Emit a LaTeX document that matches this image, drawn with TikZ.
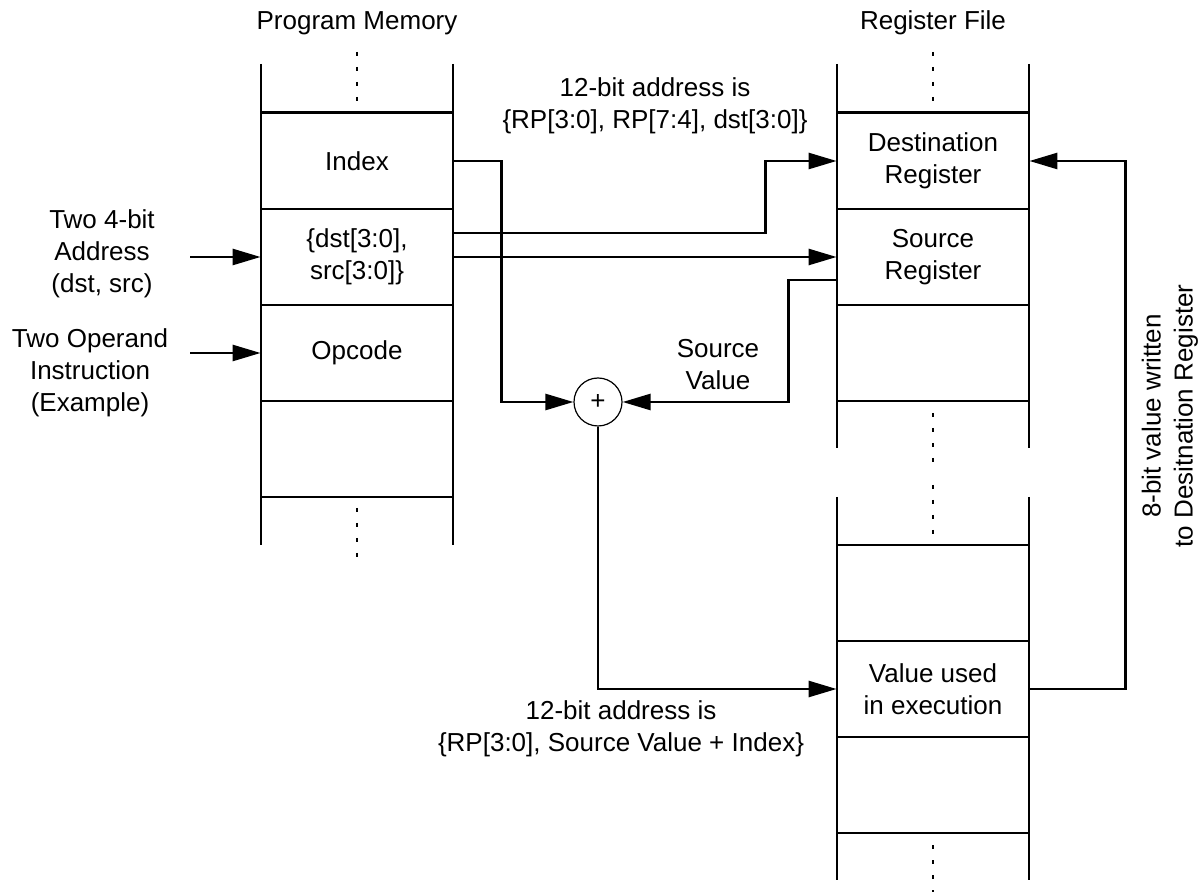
\documentclass[tikz,border=0pt]{standalone}
\usepackage{fontspec}
\setmainfont{Liberation Sans}
\usetikzlibrary{arrows.meta}

\tikzset{
  wire/.style={line width=1.3pt,-{Triangle[length=14pt,width=8pt]}},
  plain/.style={line width=1.3pt},
  cell/.style={minimum width=96pt,minimum height=48pt,inner sep=0pt,align=center},
  lbl/.style={align=center,inner sep=0pt},
  dots/.style={line width=1.3pt,dash pattern=on 2pt off 5.5pt},
}

\begin{document}
\begin{tikzpicture}[x=0.5pt,y=-0.5pt,font=\fontsize{13}{16}\selectfont]
\useasboundingbox (0,0) rectangle (1200,892);
% program memory
\draw[plain] (261,64) -- (261,545) (453,64) -- (453,545);
\foreach \y in {112.7,209,305,401,497} \draw[plain] (261,\y) -- (453,\y);
\draw[dots] (357,52) -- (357,102);
\draw[dots] (357,508) -- (357,558);
\node[lbl] (pm) at (357,23) {Program Memory};
\node[cell] (idx) at (357,161) {Index};
\node[cell] (ds) at (357,257) {\{dst[3:0],\\src[3:0]\}};
\node[cell] (opc) at (357,353) {Opcode};
% register file
\draw[plain] (837,64) -- (837,448) (1029,64) -- (1029,448);
\draw[plain] (837,497) -- (837,880) (1029,497) -- (1029,880);
\foreach \y in {112.7,209,305,401,545,641,737,833} \draw[plain] (837,\y) -- (1029,\y);
\draw[dots] (933,52) -- (933,102);
\draw[dots] (933,413) -- (933,462);
\draw[dots] (933,485) -- (933,534);
\draw[dots] (933,845) -- (933,893);
\node[lbl] (rf) at (933,23) {Register File};
\node[cell] (dreg) at (933,161) {Destination\\Register};
\node[cell] (sreg) at (933,257) {Source\\Register};
\node[cell] (val) at (933,689) {Value used\\in execution};
% adder
\node[circle,draw,line width=0.6pt,minimum size=24pt,inner sep=0pt] (add) at (598,402) {+};
% inputs
\coordinate (in1) at (190,257);
\coordinate (in2) at (190,353);
\draw[wire] (in1) -- (ds.west);
\draw[wire] (in2) -- (opc.west);
\node[lbl] (addr) at (102,254) {Two 4-bit\\Address\\(dst, src)};
\node[lbl] (instr) at (90,373) {Two Operand\\Instruction\\(Example)};
% connections
\draw[wire] (idx.east) -- ++(48,0) |- (add.west);
\draw[wire] ([yshift=12pt]ds.east) -- ++(312,0) |- (dreg.west);
\draw[wire] (ds.east) -- (sreg.west);
\draw[wire] ([yshift=-11.5pt]sreg.west) -- ++(-48,0) |- (add.east);
\draw[wire] (add.south) |- (val.west);
\draw[wire] (val.east) -- ++(96,0) |- (dreg.east);
\node[lbl] (srcval) at (718,365) {Source\\Value};
\node[lbl] (adr1) at (655,106) {12-bit address is\\\{RP[3:0], RP[7:4], dst[3:0]\}};
\node[lbl] (adr2) at (621,729) {12-bit address is\\\{RP[3:0], Source Value + Index\}};
\node[lbl,rotate=90] (wr) at (1170,416) {8-bit value written\\to Desitnation Register};
\end{tikzpicture}
\end{document}
